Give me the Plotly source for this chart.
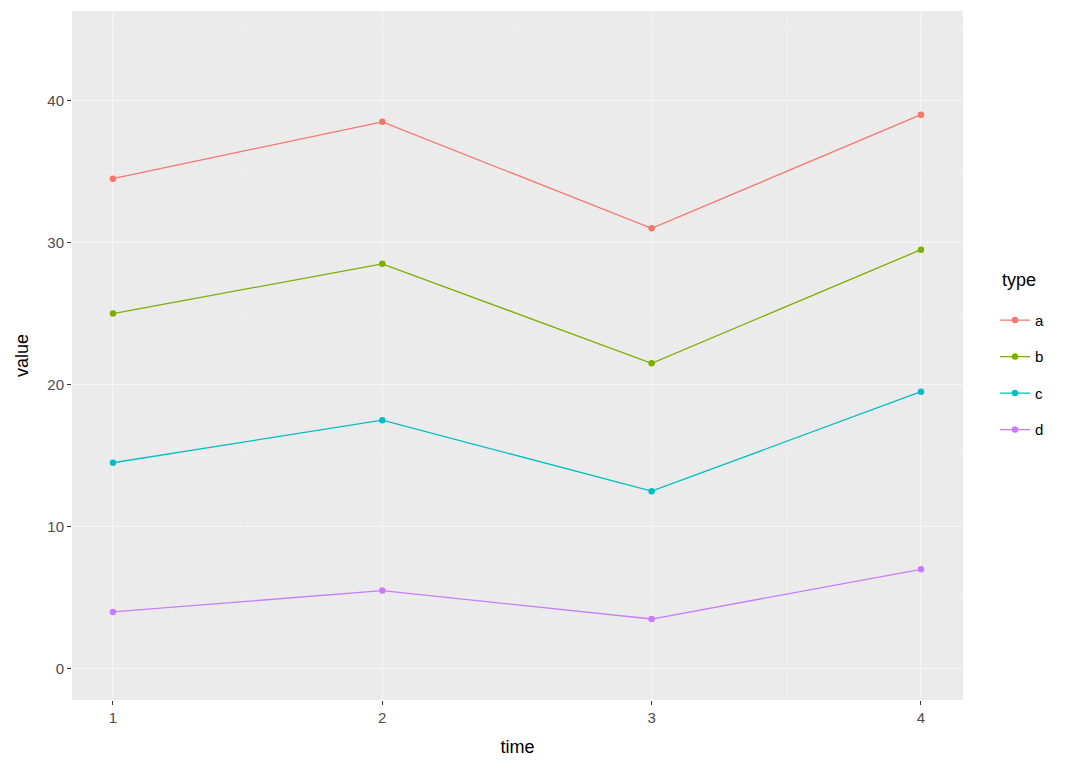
import plotly.graph_objects as go

time = [1, 2, 3, 4]
types = ["a", "b", "c", "d"]
value_a = [34.5, 38.5, 31, 39]
value_b = [25, 28.5, 21.5, 29.5]
value_c = [14.5, 17.5, 12.5, 19.5]
value_d = [4, 5.5, 3.5, 7]

colors = ["#F8766D", "#7CAE00", "#00BFC4", "#C77CFF"]

fig = go.Figure()
for name, vals, col in zip(types, [value_a, value_b, value_c, value_d], colors):
    fig.add_trace(go.Scatter(
        x=time, y=vals, name=name, legendgroup=name,
        mode="lines+markers",
        line=dict(color=col, width=1.3),
        marker=dict(color=col, size=6.5),
    ))

grid = dict(showgrid=True, gridcolor="#F6F6F6", gridwidth=1.3, zeroline=False,
            ticks="outside", ticklen=4, tickcolor="#333333",
            tickfont=dict(family="Liberation Sans, Arial", size=15, color="#4D4D4D"),
            showline=False, automargin=False)

fig.update_xaxes(range=[0.848, 4.156], tickvals=time, ticktext=["1", "2", "3", "4"],
                 minor=dict(tickvals=[1.5, 2.5, 3.5], showgrid=True, gridcolor="#EFEFEF",
                            gridwidth=0.6, ticks=""),
                 title=dict(text="time", font=dict(family="Liberation Sans, Arial", size=18, color="black"),
                            standoff=15),
                 **grid)
fig.update_yaxes(range=[-2.2, 46.3], tickvals=[0, 10, 20, 30, 40],
                 minor=dict(tickvals=[5, 15, 25, 35, 45], showgrid=True, gridcolor="#EFEFEF",
                            gridwidth=0.6, ticks=""),
                 title=dict(text="value", font=dict(family="Liberation Sans, Arial", size=18, color="black"),
                            standoff=14),
                 **grid)

fig.add_annotation(text="type", xref="paper", yref="paper", x=1.041, y=0.61,
                   xanchor="left", yanchor="middle", showarrow=False,
                   font=dict(family="Liberation Sans, Arial", size=18, color="black"))

# page body has an 8px margin, so the figure is sized 8px smaller
fig.update_layout(
    width=1072, height=763,
    margin=dict(l=64, r=117, t=3, b=71),
    plot_bgcolor="#EBEBEB", paper_bgcolor="white",
    font=dict(family="Liberation Sans, Arial", color="black"),
    legend=dict(
        font=dict(size=15, color="black"),
        x=1.036, xanchor="left", y=0.575, yanchor="top",
        tracegroupgap=14, itemwidth=30,
        bgcolor="rgba(0,0,0,0)",
    ),
)

fig.write_html("out.html")
